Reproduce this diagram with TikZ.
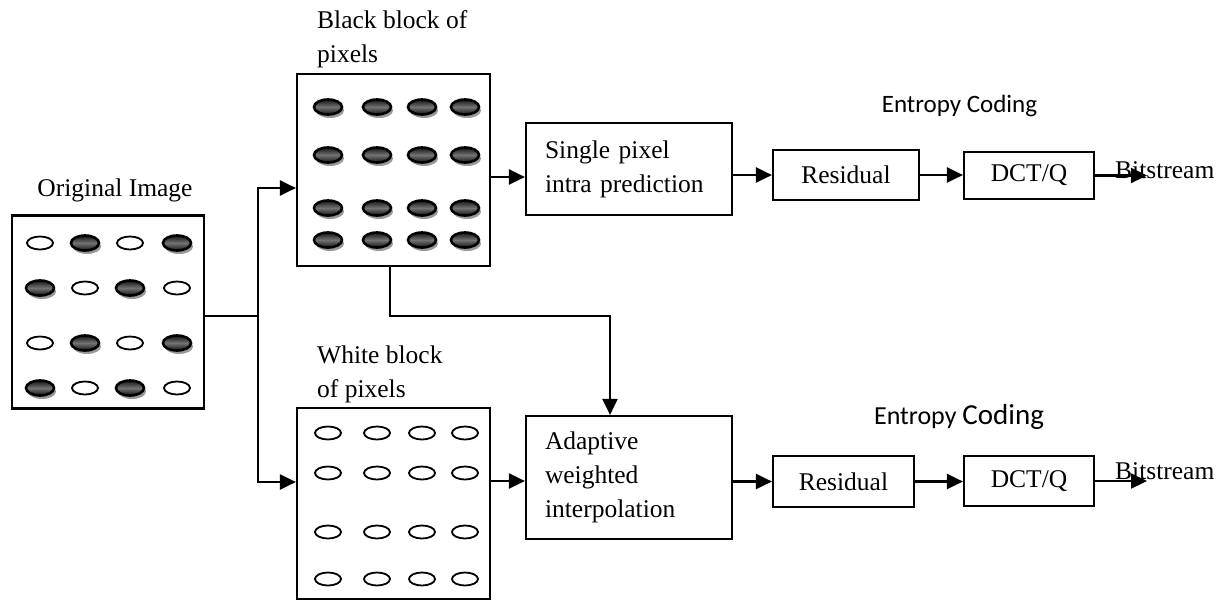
\documentclass[tikz,border=0pt]{standalone}
\usepackage{fontspec}
\setmainfont{Liberation Serif}
\newfontfamily\calfont{Carlito}
\usetikzlibrary{arrows.meta,shapes.geometric,shadows}
\tikzset{basic/.style={draw,line width=2.2pt,fill=white,inner sep=0pt}}
\tikzset{block/.style={basic,rectangle,minimum width=193pt,minimum height=192pt}}
\tikzset{stage/.style={basic,rectangle,align=left,text width=168pt,inner xsep=19pt}}
\tikzset{coder/.style={basic,rectangle}}
\tikzset{blocklabel/.style={inner sep=0pt,align=left}}
\tikzset{wpix/.style={ellipse,draw,line width=1.8pt,fill=white,minimum width=26pt,minimum height=13pt,inner sep=0pt}}
\tikzset{bpix/.style={wpix,line width=2.6pt,minimum width=28pt,minimum height=15pt,top color=black!92,bottom color=black!92,middle color=black!55,drop shadow={shadow xshift=2pt,shadow yshift=-3.5pt,opacity=0.4,fill=black}}}
\tikzset{flow/.style={draw,line width=2.2pt,-{Triangle[length=16pt,width=15pt]}}}

\begin{document}
\begin{tikzpicture}[x=1pt,y=-1pt,font=\fontsize{25.5}{34}\selectfont]
    \useasboundingbox (0,0) rectangle (1225,600);
        \node[block,minimum width=192pt,minimum height=193pt] (orig) at (108,312) {};
        \node[blocklabel] (origtxt) at (115,190) {Original Image};
        \node[block] (black) at (393.5,170) {};
        \node[blocklabel,anchor=west] (blacktxt) at (317,39) {Black block of\\pixels};
        \node[block,minimum height=191pt] (white) at (393.5,503.5) {};
        \node[blocklabel,anchor=west] (whitetxt) at (317,374) {White block\\of pixels};
        \foreach \x [count=\i] in {40,85,130,177}
            \foreach \y [count=\j] in {243,288,343,388} {
                \pgfmathtruncatemacro{\k}{mod(\i+\j,2)}
                \ifnum\k=1 \node[bpix] (o\i\j) at (\x,\y) {};
                \else \node[wpix] (o\i\j) at (\x,\y) {}; \fi
            }
        \foreach \x [count=\i] in {328,377,422,465}
            \foreach \y [count=\j] in {107,155,208,240}
                \node[bpix] (b\i\j) at (\x,\y) {};
        \foreach \x [count=\i] in {328,377,422,465}
            \foreach \y [count=\j] in {433,473,532,579}
                \node[wpix] (w\i\j) at (\x,\y) {};
        \node[stage,minimum height=92pt] (single) at (629,169) {Single pixel\\intra prediction};
        \node[stage,minimum height=123pt] (adapt) at (629,477.5) {Adaptive\\weighted\\interpolation};
        \node[coder,minimum width=146pt,minimum height=50pt] (res1) at (846,175) {Residual};
        \node[coder,minimum width=130pt,minimum height=47pt] (dct1) at (1029,175.5) {DCT/Q};
        \node[coder,minimum width=141pt,minimum height=51pt] (res2) at (843.5,481.5) {Residual};
        \node[coder,minimum width=130pt,minimum height=50pt] (dct2) at (1029,481) {DCT/Q};
        \node[blocklabel,anchor=west] (bits1) at (1115,170) {Bitstream};
        \node[blocklabel,anchor=west] (bits2) at (1115,471) {Bitstream};
        \node[blocklabel,font=\calfont\fontsize{25}{30}\selectfont] (ent1) at (959.5,105.5) {Entropy Coding};
        \node[blocklabel,font=\calfont] (ent2) at (959,416.5) {{\fontsize{26}{30}\selectfont Entropy }{\fontsize{29}{34}\selectfont Coding}};
        \coordinate (split) at (258,316);
        \coordinate (tap) at (390,316);
        \coordinate (out1) at (1147,176);
        \coordinate (out2) at (1147,480);
            \path[draw,line width=2.2pt] (orig.east |- split) -- (split);
            \path[flow] (split) |- ([yshift=-18pt]black.west);
            \path[flow] (split) |- ([yshift=21.5pt]white.west);
            \path[flow] ([yshift=-7pt]black.east) -- ([yshift=-7pt]black.east -| single.west);
            \path[flow] (single.east |- res1.west) -- (res1.west);
            \path[flow] (res1.east) -- (res1.east -| dct1.west);
            \path[flow] (dct1.east) -- (dct1.east -| out1);
            \path[flow] (black.south -| tap) -- (tap) -| ([xshift=-19pt]adapt.north);
            \path[flow] ([yshift=-3.5pt]adapt.west -| white.east) -- ([yshift=-3.5pt]adapt.west);
            \path[flow] (adapt.east |- res2.west) -- (res2.west);
            \path[flow] (res2.east) -- (res2.east -| dct2.west);
            \path[flow] (dct2.east) -- (dct2.east -| out2);
    \end{tikzpicture}
\end{document}
